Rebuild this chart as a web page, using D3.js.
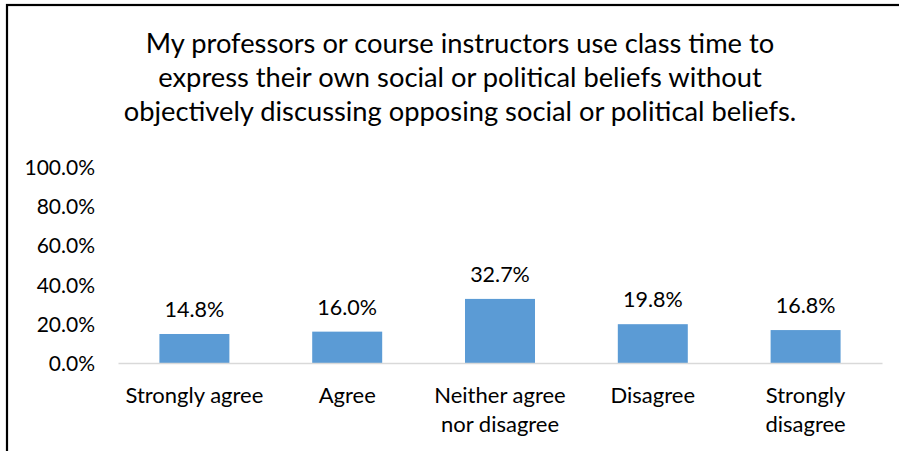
<!DOCTYPE html>
<html>
<head>
<meta charset="utf-8">
<script src="https://cdn.jsdelivr.net/npm/d3@7/dist/d3.min.js"></script>
<style>
  html, body { margin: 0; padding: 0; background: #fff; }
  svg { display: block; }
  text { font-family: Lato, "Open Sans", sans-serif; fill: #000; }
</style>
</head>
<body>
<svg id="chart" width="899" height="451"></svg>
<script>
const titleLines = [
  "My professors or course instructors use class time to",
  "express their own social or political beliefs without",
  "objectively discussing opposing social or political beliefs."
];
const categories = [
  ["Strongly agree"],
  ["Agree"],
  ["Neither agree", "nor disagree"],
  ["Disagree"],
  ["Strongly", "disagree"]
];
const values = [0.148, 0.160, 0.327, 0.198, 0.168];
const yTicks = [0, 0.2, 0.4, 0.6, 0.8, 1.0];

const svg = d3.select("#chart");
const W = 899, H = 451;

// chart border (left and top visible)
svg.append("rect")
  .attr("x", 7).attr("y", 5)
  .attr("width", W + 20).attr("height", H + 20)
  .attr("fill", "#fff").attr("stroke", "#000").attr("stroke-width", 2.2);

const plot = { left: 118, right: 882, top: 167, bottom: 363 };

const x = d3.scaleBand()
  .domain(d3.range(categories.length))
  .range([plot.left, plot.right])
  .paddingInner(0.542).paddingOuter(0.271);

const y = d3.scaleLinear().domain([0, 1]).range([plot.bottom, plot.top]);

// title
const title = svg.append("text")
  .attr("text-anchor", "middle")
  .style("font-size", "27.3px");
titleLines.forEach((t, i) => {
  title.append("tspan").attr("x", 460).attr("y", 53 + i * 34).text(t);
});

// y axis labels
const yAxis = d3.axisLeft(y).tickValues(yTicks).tickFormat(d3.format(".1%")).tickSize(0).tickPadding(0);
const gy = svg.append("g").attr("transform", "translate(95,0)").call(yAxis);
gy.select(".domain").remove();
gy.selectAll("text")
  .attr("x", 0)
  .attr("dy", "0.36em")
  .style("font-family", "Lato, 'Open Sans', sans-serif")
  .style("font-size", "21px")
  .attr("fill", "#000");

// bars
svg.append("g").selectAll("rect")
  .data(values)
  .join("rect")
  .attr("x", (d, i) => x(i))
  .attr("y", d => y(d))
  .attr("width", x.bandwidth())
  .attr("height", d => y(0) - y(d))
  .attr("fill", "#5b9bd5");

// baseline axis
const xAxis = d3.axisBottom(x).tickSize(0).tickFormat("");
const gx = svg.append("g").attr("transform", `translate(0,${plot.bottom})`).call(xAxis);
gx.select(".domain").attr("stroke", "#d9d9d9").attr("stroke-width", 1.6);

// value labels
svg.append("g").selectAll("text")
  .data(values)
  .join("text")
  .attr("x", (d, i) => x(i) + x.bandwidth() / 2)
  .attr("y", d => y(d) - 17)
  .attr("text-anchor", "middle")
  .style("font-size", "21.5px")
  .text(d => d3.format(".1%")(d));

// category labels
const cat = svg.append("g").selectAll("text")
  .data(categories)
  .join("text")
  .attr("text-anchor", "middle")
  .style("font-size", "22px");
cat.each(function(lines, i) {
  const cx = x(i) + x.bandwidth() / 2;
  lines.forEach((l, j) => {
    d3.select(this).append("tspan").attr("x", cx).attr("y", 403 + j * 29).text(l);
  });
});
</script>
</body>
</html>
